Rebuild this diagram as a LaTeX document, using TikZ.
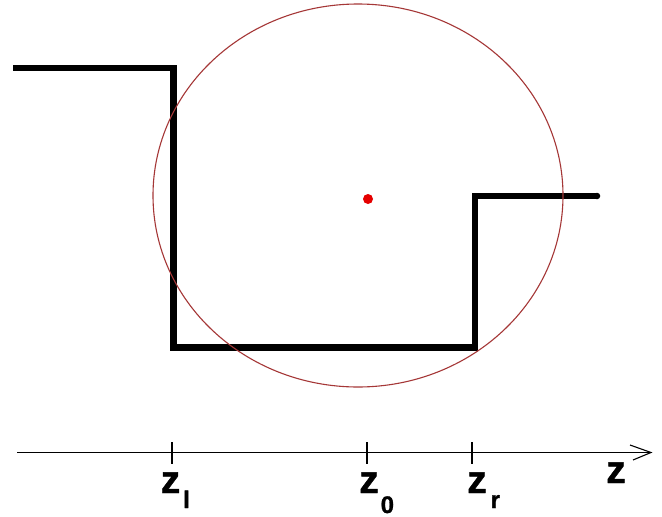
\documentclass[tikz,border=0pt]{standalone}
\usepackage{fontspec}
\setmainfont{Liberation Sans}
\newfontfamily\zfont[FakeBold=1.2]{Liberation Sans Bold}
\begin{document}
\begin{tikzpicture}[x=1pt,y=-1pt,
  stepline/.style={line width=6.5pt,line join=miter,line cap=butt},
  circ/.style={draw={rgb,255:red,165;green,55;blue,55},line width=1.1pt},
  axis/.style={line width=1.3pt},
  tick/.style={line width=1.3pt},
  lab/.style={inner sep=0pt,anchor=base west,font=\zfont\fontsize{39}{39}\selectfont}]
\useasboundingbox[fill=white] (0,0) rectangle (662,517);
% step profile
\draw[stepline] (13,68) -- (173.5,68) -- (173.5,347.5) -- (475,347.5) -- (475,196) -- (597,196);
\fill (597,196) circle (3.25);
% circle
\draw[circ] (358,195.5) ellipse [x radius=205, y radius=191.5];
\fill[red!90!black] (368,199) circle (5);
% axis
\coordinate (a0) at (17,452.5);
\coordinate (a1) at (651,452.5);
\coordinate (b1) at (630,445);
\coordinate (b2) at (633,460);
\draw[axis] (a0) -- (a1);
\draw[line width=1.1pt] (b1) -- (a1) -- (b2);
\foreach \n/\x in {l/172,o/367,r/472}{
  \coordinate (t\n a) at (\x,442);
  \coordinate (t\n b) at (\x,464);
  \draw[tick] (t\n a) -- (t\n b);
}
\node[lab] (zl) at (160.5,493) {z\kern3pt\raisebox{-15pt}{\fontsize{24}{24}\selectfont l}};
\node[lab] (zo) at (359,493) {z\kern2pt\raisebox{-20pt}{\fontsize{24}{24}\selectfont 0}};
\node[lab] (zr) at (467,493) {z\kern4pt\raisebox{-15pt}{\fontsize{24}{24}\selectfont r}};
\node[lab] (zz) at (606,483) {z};
\end{tikzpicture}
\end{document}
